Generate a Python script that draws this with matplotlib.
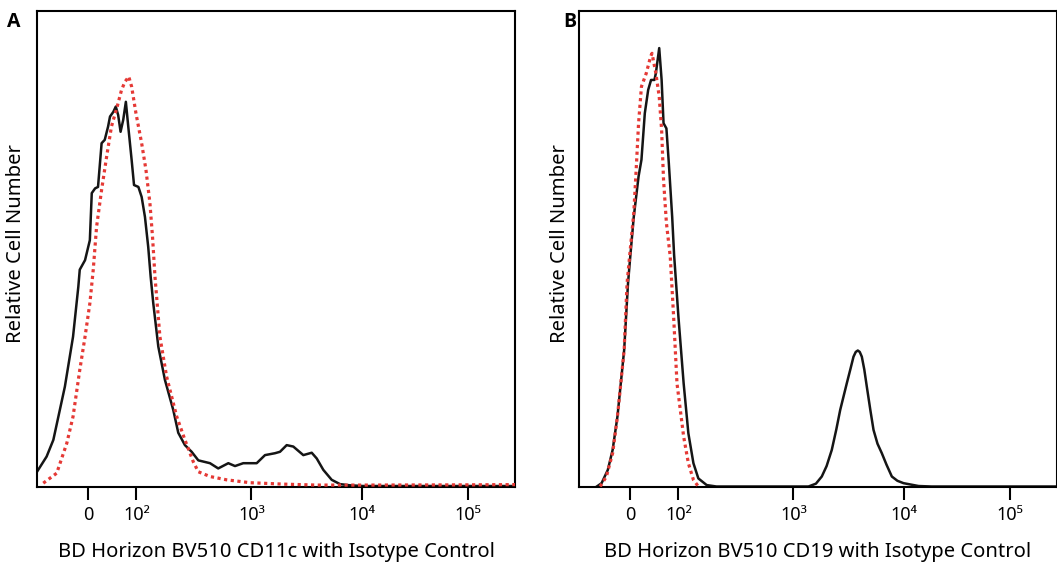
import numpy as np
import matplotlib
matplotlib.use("Agg")
import matplotlib.pyplot as plt
from matplotlib.ticker import NullLocator

plt.rcParams['font.family'] = ['Noto Sans', 'DejaVu Sans']

# ---- data (fluorescence intensity, relative count 0-100) ----
# A: CD11c
a_stain_x = [-107, -87, -73, -49, -32, -21, -18, -7, 3, 7, 14, 20, 27.5, 34, 41, 45, 52, 57, 62, 67,
             72.5, 78, 83, 90, 95, 104, 111, 118.6, 126.6, 133, 140, 155, 177, 209, 231, 264, 302,
             345, 436, 514, 629, 719, 848, 1115, 1327, 1635, 1816, 2089, 2399, 2958, 3527, 3915,
             4495, 5358, 6376, 7855, 10330, 30000, 100000, 280000]
a_stain_y = [3.1, 6.3, 9.8, 21.0, 31.5, 42.0, 45.6, 47.6, 51.8, 61.7, 62.7, 63.0, 72.2, 72.9, 75.7,
             77.8, 78.8, 79.9, 78.1, 74.6, 77.1, 80.9, 75.7, 68.7, 63.4, 63.0, 60.9, 56.7, 50.4, 44.1,
             38.6, 29.4, 22.4, 16.1, 11.3, 8.7, 7.3, 5.5, 4.9, 3.8, 4.9, 4.3, 4.9, 4.9, 6.6, 7.0, 7.3,
             8.7, 8.4, 6.6, 7.1, 5.9, 3.5, 1.4, 0.5, 0.25, 0.1, 0.1, 0.1, 0.1]
a_iso_x = [-94, -66, -45, -32, -18, -7, 3, 10, 17, 27.5, 38, 48, 60, 69, 76, 84, 90, 99, 111, 121,
           131, 138, 145, 160, 183, 224, 264, 312, 345, 436, 609, 970, 1946, 3915, 10000, 100000,
           280000]
a_iso_y = [0.7, 2.8, 9.1, 14.7, 24.5, 31.5, 38.5, 45.5, 54.6, 62.4, 69.4, 75.7, 79.9, 83.4, 85.1,
           86.2, 84.1, 78.5, 72.2, 66.6, 59.6, 52.5, 44.1, 31.5, 23.1, 14.7, 9.8, 5.2, 3.1, 2.1, 1.4,
           0.8, 0.5, 0.3, 0.3, 0.35, 0.4]

# B: CD19
b_stain_x = [-70, -60, -47, -37, -27, -20, -13, -9, -5, 0, 7, 17, 23, 30, 37, 43, 50, 53, 60, 65,
             69, 75, 80, 87, 91, 100, 111, 122, 135, 149, 176, 214, 1369, 1600, 1808, 2000, 2229,
             2450, 2658, 3051, 3300, 3511, 3680, 3842, 4000, 4178, 4400, 4638, 5000, 5337, 5800,
             6350, 7000, 7830, 8800, 10000, 13870, 18400, 280000]
b_stain_y = [0, 0.7, 3.5, 7.7, 14.7, 21.7, 28.7, 35.7, 42.7, 48.7, 56.7, 65.2, 68.7, 78.5, 83.4,
             85.5, 85.5, 86.9, 92.2, 85.5, 76.4, 75.3, 68.0, 56.7, 48.7, 35.7, 21.7, 11.2, 4.9, 1.7,
             0.3, 0, 0, 0.6, 2.1, 4.3, 7.7, 12.0, 16.1, 21.7, 24.8, 27.3, 28.3, 28.6, 28.3, 27.3,
             24.6, 21.0, 16.0, 11.9, 9.0, 7.0, 4.6, 2.1, 1.2, 0.7, 0.1, 0, 0]
b_iso_x = [-63, -50, -37, -27, -20, -13, -10, -7, -1, 7, 12, 17, 23, 33, 42, 45, 49, 53, 60, 65,
           69, 75, 83, 90, 97, 111, 122, 135, 149]
b_iso_y = [0, 2.1, 7.0, 14.7, 21.7, 28.7, 35.7, 42.7, 49.1, 57.5, 66.6, 76.4, 84.1, 86.9, 90.4,
           91.1, 89.0, 86.9, 82.0, 75.0, 64.5, 55.4, 48.3, 35.7, 21.7, 10.5, 4.9, 1.4, 0]

tick_vals = [0, 100, 1000, 10000, 100000]
tick_labels = ['0', '10²', '10³', '10⁴', '10⁵']
panels = [
    ('A', 'BD Horizon BV510 CD11c with Isotype Control', a_stain_x, a_stain_y, a_iso_x, a_iso_y),
    ('B', 'BD Horizon BV510 CD19 with Isotype Control', b_stain_x, b_stain_y, b_iso_x, b_iso_y),
]

# biexponential-like display scale (linear near zero, log above 10^2)
DEC = [2, 3, 4, 5, 6]
POS = [0, 115, 225, 331, 437]


def forward(x):
    x = np.asarray(x, dtype=float)
    a = np.abs(x)
    hi = 48 + np.interp(np.log10(np.maximum(a, 100)), DEC, POS)
    return np.where(a <= 100, 0.48 * x, np.sign(x) * hi)


def inverse(u):
    u = np.asarray(u, dtype=float)
    a = np.abs(u)
    hi = 10 ** np.interp(np.maximum(a, 48) - 48, POS, DEC)
    return np.where(a <= 48, u / 0.48, np.sign(u) * hi)


W, H = 1057, 566
fig = plt.figure(figsize=(W / 100, H / 100), dpi=100)

lefts = [37, 579]
label_x = [16, 560]
letter_x = [7, 563]
for i, (letter, xlabel, sx, sy, ix, iy) in enumerate(panels):
    ax = fig.add_axes([lefts[i] / W, 1 - 486.5 / H, 478 / W, 475.5 / H])
    ax.set_xscale('function', functions=(forward, inverse))
    ax.plot(sx, sy, color='#151515', lw=1.8, solid_joinstyle='round', zorder=2)
    ax.plot(ix, iy, color='#e53935', lw=2.3, linestyle=(0, (1, 1.1)), dash_capstyle='butt', zorder=3)
    ax.set_xlim(-107, 280000)
    ax.set_ylim(0, 100)
    ax.set_xticks(tick_vals, tick_labels)
    ax.xaxis.set_minor_locator(NullLocator())
    ax.set_yticks([])
    ax.tick_params(axis='x', direction='out', length=9, width=1.5, pad=5, labelsize=13)
    for sp in ax.spines.values():
        sp.set_linewidth(1.5)
        sp.set_clip_on(False)

    fig.text(label_x[i] / W, 1 - 244 / H, 'Relative Cell Number', rotation=90,
             ha='center', va='center', fontsize=14.5)
    fig.text((lefts[i] + 239) / W, 1 - 557 / H, xlabel, ha='center', va='baseline', fontsize=14.5)
    fig.text(letter_x[i] / W, 1 - 27 / H, letter, ha='left', va='baseline',
             fontsize=14, fontweight='bold', family=['Open Sans', 'DejaVu Sans'])

fig.savefig('out.png', dpi=100)
